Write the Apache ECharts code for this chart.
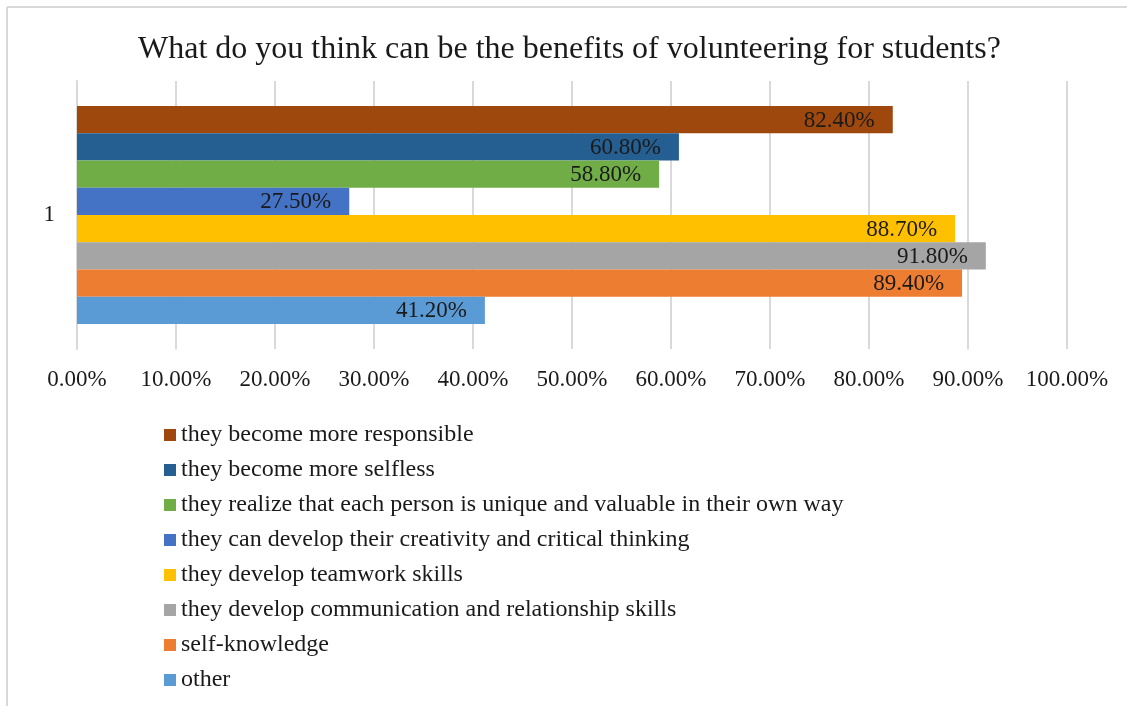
<!DOCTYPE html>
<html>
<head>
<meta charset="utf-8">
<script src="https://cdn.jsdelivr.net/npm/echarts@6/dist/echarts.min.js"></script>
<style>html,body{margin:0;padding:0;background:#fff}#c{width:1127px;height:706px}</style>
</head>
<body>
<div id="c"></div>
<script>
const titleText = 'What do you think can be the benefits of volunteering for students?';
const categories = ['1'];
const seriesNames = [
  'they become more responsible',
  'they become more selfless',
  'they realize that each person is unique and valuable in their own way',
  'they can develop their creativity and critical thinking',
  'they develop teamwork skills',
  'they develop communication and relationship skills',
  'self-knowledge',
  'other'
];
const seriesValues = [82.4, 60.8, 58.8, 27.5, 88.7, 91.8, 89.4, 41.2];
const seriesColors = ['#9e480e', '#255e91', '#70ad47', '#4472c4', '#ffc000', '#a5a5a5', '#ed7d31', '#5b9bd5'];
const xTicks = [0, 10, 20, 30, 40, 50, 60, 70, 80, 90, 100];

const FONT = '"Liberation Serif", "Times New Roman", serif';
const chart = echarts.init(document.getElementById('c'));
chart.setOption({
  backgroundColor: '#fff',
  animation: false,
  textStyle: { fontFamily: FONT, color: '#1a1a1a' },
  title: {
    text: titleText, left: 138, top: 34, padding: 0,
    textStyle: { fontFamily: FONT, fontSize: 32, fontWeight: 'normal', color: '#1a1a1a' }
  },
  graphic: [
    { type: 'line', shape: { x1: 7, y1: 7, x2: 1127, y2: 7 }, style: { stroke: '#d9d9d9', lineWidth: 2 } },
    { type: 'line', shape: { x1: 7, y1: 7, x2: 7, y2: 706 }, style: { stroke: '#d9d9d9', lineWidth: 2 } }
  ],
  legend: {
    orient: 'vertical', left: 164, top: 423, padding: 0,
    icon: 'rect', itemWidth: 12, itemHeight: 12, itemGap: 11, itemTextGap: 5,
    data: seriesNames,
    textStyle: { fontFamily: FONT, fontSize: 24, color: '#1a1a1a' }
  },
  grid: { left: 77, right: 60, top: 81, bottom: 357, containLabel: false },
  xAxis: {
    type: 'value', min: xTicks[0], max: xTicks[xTicks.length - 1], interval: 10,
    axisLine: { show: false }, axisTick: { show: false },
    splitLine: { show: true, lineStyle: { color: '#d9d9d9', width: 2 } },
    axisLabel: { margin: 19, fontFamily: FONT, fontSize: 23, color: '#1a1a1a',
      formatter: v => v.toFixed(2) + '%' }
  },
  yAxis: {
    type: 'category', data: categories, inverse: true,
    axisLine: { show: true, lineStyle: { color: '#d9d9d9', width: 2 } },
    axisTick: { show: false },
    axisLabel: { margin: 22, fontFamily: FONT, fontSize: 23, color: '#1a1a1a' }
  },
  series: seriesNames.map((name, i) => ({
    name, type: 'bar', data: [seriesValues[i]],
    barGap: '0%', barCategoryGap: '18.6%',
    itemStyle: { color: seriesColors[i] },
    label: { show: true, position: 'insideRight', distance: 18, offset: [0, 1],
      fontFamily: FONT, fontSize: 23, color: '#1a1a1a',
      formatter: p => p.value.toFixed(2) + '%' }
  }))
});
</script>
</body>
</html>
